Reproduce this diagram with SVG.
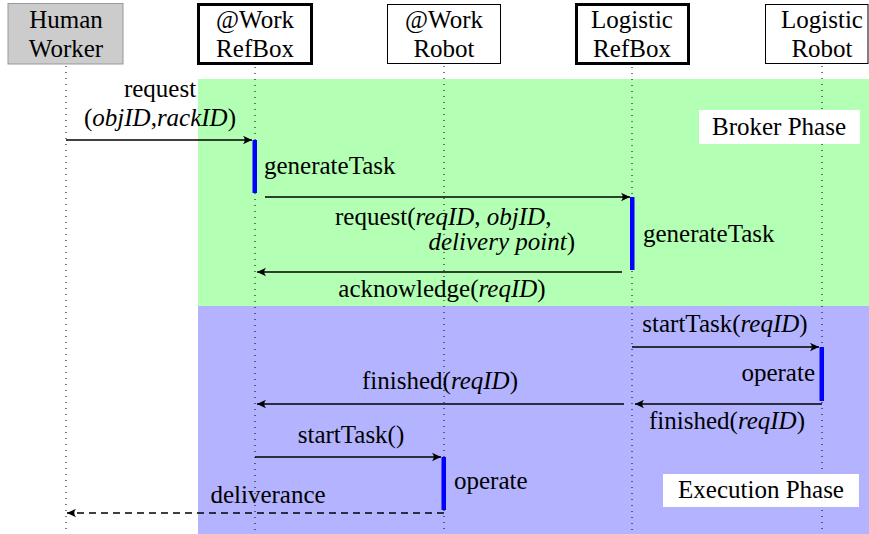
<svg xmlns="http://www.w3.org/2000/svg" width="869" height="534" viewBox="0 0 869 534">
<style>
text{font-family:"Liberation Serif","Times New Roman",serif;font-size:25px;fill:#000}
.c{text-anchor:middle}
.e{text-anchor:end}
.i{font-style:italic}
.life{stroke:#000;stroke-width:1;stroke-dasharray:1 5;fill:none}
.msg{stroke:#000;stroke-width:1.3;fill:none;marker-end:url(#ah)}
.dash{stroke-dasharray:7 5}
.act{fill:#0000ff}
.box{fill:#fff;stroke:#000;stroke-width:1}
.thick{stroke-width:3}
</style>
<defs>
<marker id="ah" markerWidth="12" markerHeight="10" refX="10" refY="5" orient="auto" markerUnits="userSpaceOnUse">
<path d="M10,5 L1,0.8 Q4.5,5 1,9.2 Z" fill="#000"/>
</marker>
</defs>
<g id="phases">
<rect x="198" y="79" width="671" height="227" fill="#b3ffb3"/>
<rect x="198" y="306" width="671" height="228" fill="#b3b3ff"/>
</g>
<g id="lifelines">
<line class="life" x1="66" y1="66" x2="66" y2="534"/>
<line class="life" x1="255" y1="67" x2="255" y2="534"/>
<line class="life" x1="444" y1="66" x2="444" y2="534"/>
<line class="life" x1="632" y1="67" x2="632" y2="534"/>
<line class="life" x1="822" y1="66" x2="822" y2="534"/>
</g>
<g id="human-worker">
<rect x="8" y="3.5" width="115" height="60.5" fill="#cccccc" stroke="#999" stroke-width="1"/>
<text class="c" x="66" y="28">Human</text>
<text class="c" x="66" y="57">Worker</text>
</g>
<g id="work-refbox">
<rect class="box thick" x="198.5" y="4.5" width="113" height="59"/>
<text class="c" x="255" y="28">@Work</text>
<text class="c" x="255" y="57">RefBox</text>
</g>
<g id="work-robot">
<rect class="box" x="387.5" y="4.5" width="113" height="59"/>
<text class="c" x="444" y="28">@Work</text>
<text class="c" x="444" y="57">Robot</text>
</g>
<g id="logistic-refbox">
<rect class="box thick" x="576.5" y="4.5" width="112" height="59"/>
<text class="c" x="632" y="28">Logistic</text>
<text class="c" x="632" y="57">RefBox</text>
</g>
<g id="logistic-robot">
<rect class="box" x="765.5" y="4.5" width="102.5" height="59"/>
<text class="c" x="822" y="28">Logistic</text>
<text class="c" x="822" y="57">Robot</text>
</g>
<g id="labels">
<rect x="699" y="110" width="161" height="34" fill="#fff"/>
<text class="c" x="779" y="135">Broker Phase</text>
<rect x="663" y="474" width="196" height="33" fill="#fff"/>
<text class="c" x="761" y="498">Execution Phase</text>
</g>
<g id="activations">
<rect class="act" x="252.5" y="140" width="4.5" height="53"/>
<rect class="act" x="630" y="197" width="4.5" height="73"/>
<rect class="act" x="819.5" y="347" width="4.5" height="54"/>
<rect class="act" x="441.5" y="457" width="4.5" height="53"/>
</g>
<g id="connectors">
<line class="msg" x1="66" y1="140" x2="252" y2="140"/>
<line class="msg" x1="265" y1="197" x2="630" y2="197"/>
<line class="msg" x1="622" y1="272" x2="257" y2="272"/>
<line class="msg" x1="632" y1="347" x2="819" y2="347"/>
<line class="msg" x1="822" y1="404" x2="635" y2="404"/>
<line class="msg" x1="624" y1="404" x2="257" y2="404"/>
<line class="msg" x1="255" y1="457" x2="441" y2="457"/>
<line class="msg dash" x1="444" y1="513" x2="67" y2="513"/>
</g>
<g id="message-labels">
<text class="c" x="160" y="97">request</text>
<text class="c" x="160" y="126">(<tspan class="i">objID</tspan>,<tspan class="i">rackID</tspan>)</text>
<text x="264" y="174">generateTask</text>
<text x="335" y="225">request(<tspan class="i">reqID</tspan>, <tspan class="i">objID</tspan>,</text>
<text class="e" x="575" y="250"><tspan class="i">delivery point</tspan>)</text>
<text x="643" y="242">generateTask</text>
<text class="c" x="442" y="297">acknowledge(<tspan class="i">reqID</tspan>)</text>
<text class="c" x="725" y="332">startTask(<tspan class="i">reqID</tspan>)</text>
<text class="e" x="815" y="381">operate</text>
<text class="c" x="440" y="389">finished(<tspan class="i">reqID</tspan>)</text>
<text class="c" x="727" y="429">finished(<tspan class="i">reqID</tspan>)</text>
<text class="c" x="351" y="443">startTask()</text>
<text x="454" y="489">operate</text>
<text class="c" x="268" y="503">deliverance</text>
</g>
</svg>
